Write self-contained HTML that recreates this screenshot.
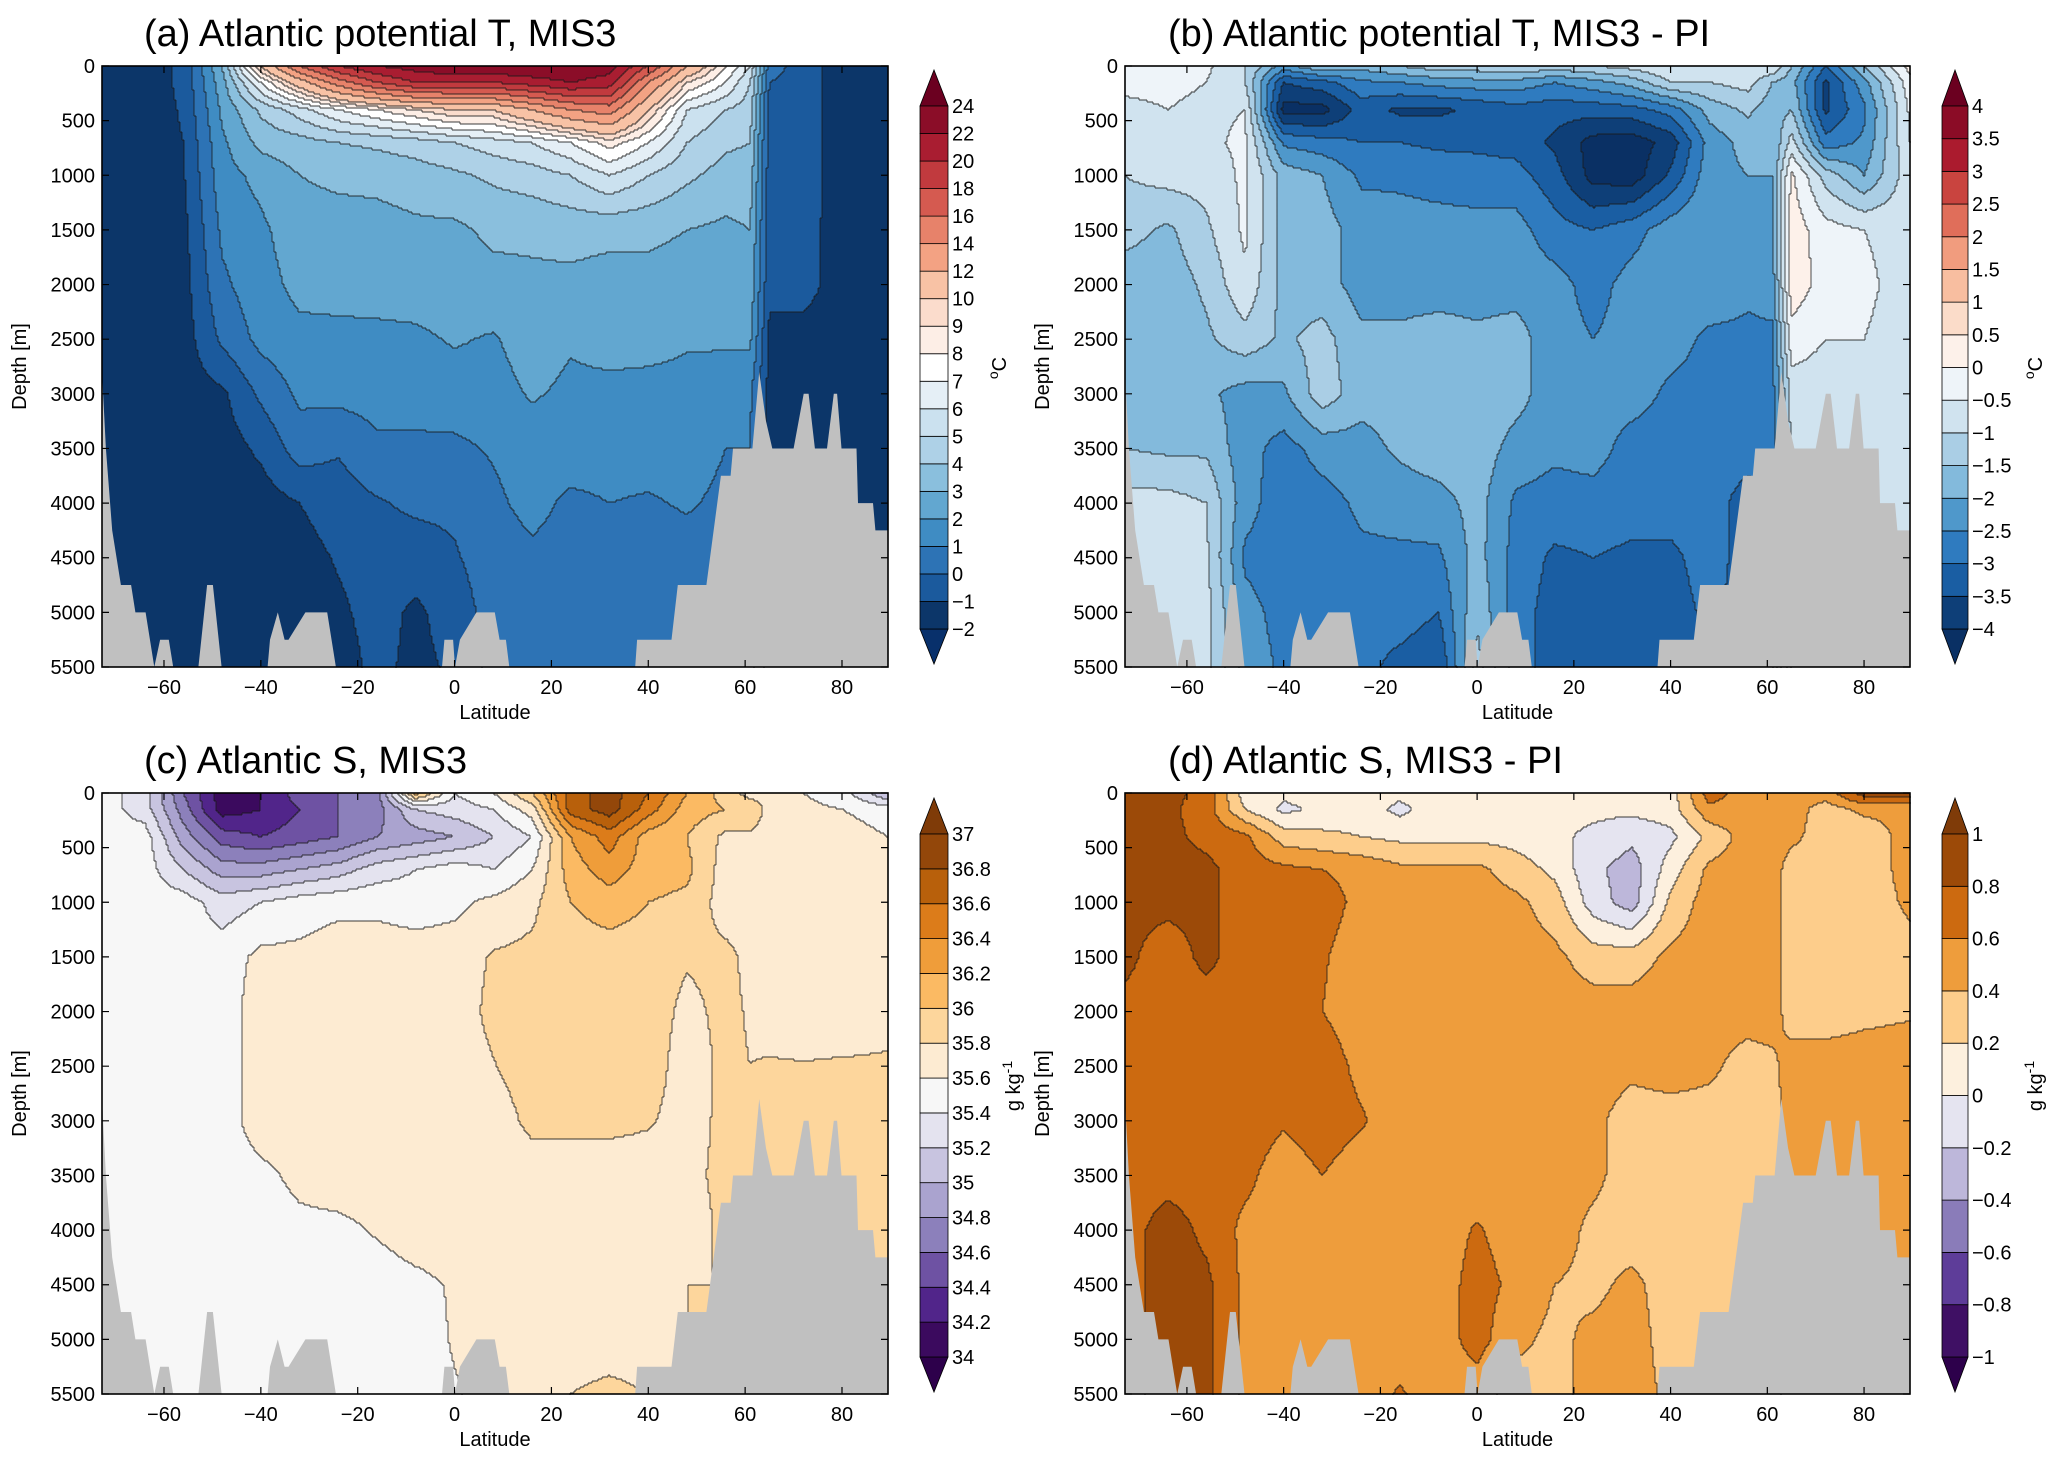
<!DOCTYPE html>
<html><head><meta charset="utf-8"><title>Atlantic T and S sections</title>
<style>
html,body{margin:0;padding:0;background:#fff;}
svg{display:block;font-family:"Liberation Sans",Arial,sans-serif;}
</style></head>
<body>
<svg id="fig" xmlns="http://www.w3.org/2000/svg" width="2067" height="1463" viewBox="0 0 2067 1463">
<rect x="0" y="0" width="2067" height="1463" fill="#ffffff"/>
</svg>
<script>
// ---- shared grid (latitude columns, depth rows) ----
const LATS = [-73,-64,-56,-48,-40,-32,-24,-16,-8,0,8,16,24,32,40,48,56,61,65,72,80,89.5];
const DEPTHS = [0,150,400,700,1000,1500,2000,2500,3000,3500,4000,4500,5000,5500];
const X_TICKS = [-60,-40,-20,0,20,40,60,80];
const Y_TICKS = [0,500,1000,1500,2000,2500,3000,3500,4000,4500,5000,5500];

// ---- panel (a) potential temperature, MIS3 (one row per latitude) ----
const A_VALUES = [
[-1.5,-1.5,-1.5,-1.5,-1.5,-1.5,-1.5,-1.5,-1.5,-1.5,-1.5,-1.5,-1.5,-1.5],
[-1.5,-1.5,-1.5,-1.5,-1.5,-1.5,-1.5,-1.5,-1.5,-1.5,-1.5,-1.5,-1.5,-1.5],
[-0.8,-0.8,-0.9,-1.0,-1.1,-1.3,-1.4,-1.5,-1.5,-1.5,-1.5,-1.5,-1.5,-1.5],
[3,2.6,2.2,1.8,1.6,1.2,0.8,0.2,-1.2,-1.5,-1.5,-1.5,-1.5,-1.5],
[10,7,4.2,3.3,2.3,1.8,1.6,1.3,0.2,-0.8,-1.5,-1.5,-1.5,-1.5],
[16,11,5.5,3.6,3.0,2.6,2.3,1.7,1.2,0.5,-1.0,-1.4,-1.5,-1.5],
[20,15,7,4,3.2,2.6,2.4,1.7,1.3,0.1,-0.5,-0.9,-1.2,-1.5],
[22,18,8,4.2,3.3,2.6,2.5,1.7,1.4,0.8,-0.1,-0.5,-0.6,-0.7],
[23,20,9,4.5,3.5,2.8,2.5,1.8,1.4,0.8,0.2,-0.5,-1.2,-1.3],
[24,20,10,5,3.8,2.8,2.6,2.1,1.5,0.8,0.2,-0.1,-0.5,-0.8],
[24,20,10,5.5,4.2,3.2,2.7,1.9,1.6,1.1,0.8,0.5,0.4,0.3],
[24,21,12,6,4.5,3.2,2.8,2.5,2.1,1.5,1.3,0.8,0.5,0.4],
[24,22,14,7,5,3.3,2.8,2.1,1.8,1.5,0.8,0.6,0.5,0.4],
[23,21,15,8.5,6,3.2,2.7,2.4,1.7,1.4,1.0,0.6,0.5,0.4],
[18,14,10,7,5,3.2,2.7,2.3,1.7,1.4,0.9,0.6,0.5,0.4],
[12,9,6,5,4.2,3.0,2.6,2.1,1.7,1.4,1.1,0.6,0.5,0.4],
[8,7,5,4.2,3.6,2.8,2.6,2.1,1.6,1.0,0.8,0.6,0.5,0.4],
[6,5,4.5,4,3.5,3,2.7,2.2,1.2,1.0,0.8,0.6,0.5,0.4],
[0.5,0,-0.3,-0.5,-0.5,-0.6,-0.8,-1.2,-1.4,-1.5,-1.5,-1.5,-1.5,-1.5],
[-0.5,-0.5,-0.5,-0.5,-0.5,-0.6,-0.6,-1.4,-1.5,-1.5,-1.5,-1.5,-1.5,-1.5],
[-1.5,-1.5,-1.5,-1.5,-1.5,-1.5,-1.5,-1.5,-1.5,-1.5,-1.5,-1.5,-1.5,-1.5],
[-1.5,-1.5,-1.5,-1.5,-1.5,-1.5,-1.5,-1.5,-1.5,-1.5,-1.5,-1.5,-1.5,-1.5]
];
const A_LEVELS = [-2,-1,0,1,2,3,4,5,6,7,8,9,10,12,14,16,18,20,22,24];
const A_LABELS = ["\u22122","\u22121","0","1","2","3","4","5","6","7","8","9","10","12","14","16","18","20","22","24"];
const A_COLORS = ["#08306b","#0c3669","#1b5a9d","#2d73b5","#3f8cc3","#62a7d0","#8abfdd","#aed1e7","#cbe1ef","#e5eff6","#ffffff","#fdeee6","#fbdccc","#f8c2a5","#f3a283","#e7826a","#d55a50","#c13a3e","#a91d31","#8b0d28","#6b0020"];

// ---- panel (b) potential temperature, MIS3 - PI ----
const B_VALUES = [
[-0.4,-0.4,-0.6,-1.0,-1.0,-1.3,-1.8,-1.8,-1.8,-1.5,-0.8,-0.8,-0.8,-0.8],
[-0.4,-0.4,-0.5,-0.7,-0.8,-1.6,-1.8,-1.8,-1.7,-1.6,-0.8,-0.7,-0.7,-0.7],
[-0.4,-0.5,-0.6,-0.6,-0.8,-1.1,-1.4,-1.6,-1.9,-1.6,-1.0,-0.9,-0.8,-0.8],
[-1.0,-1.0,-0.5,-0.4,-0.4,-0.4,-0.6,-1.2,-2.2,-2.3,-2.3,-2.6,-2.3,-2.2],
[-2.2,-3.5,-4.2,-2.6,-1.7,-1.7,-1.7,-1.6,-2.1,-2.7,-2.8,-2.8,-2.7,-2.6],
[-1.5,-3.2,-4.2,-2.8,-2.0,-1.8,-1.8,-1.3,-1.2,-2.3,-2.7,-2.8,-2.6,-2.5],
[-1.8,-2.6,-3.3,-3.0,-2.6,-2.2,-2.2,-1.9,-1.8,-2.2,-2.4,-2.6,-2.8,-2.8],
[-1.5,-2.5,-3.6,-3.0,-2.6,-2.3,-2.2,-1.9,-1.8,-1.9,-2.3,-2.6,-2.7,-3.2],
[-1.2,-2.3,-3.6,-3.1,-2.7,-2.3,-2.2,-1.8,-1.7,-1.7,-2.2,-2.6,-3.0,-3.5],
[-1.2,-2.2,-3.4,-3.1,-2.8,-2.3,-2.2,-1.9,-1.7,-1.7,-1.8,-1.8,-1.6,-1.3],
[-1.0,-2.2,-3.2,-3.2,-2.8,-2.3,-2.2,-1.8,-1.8,-2.2,-2.6,-2.7,-2.8,-2.8],
[-1.2,-2.5,-3.3,-3.6,-3.3,-2.8,-2.3,-2.3,-2.3,-2.4,-2.7,-3.1,-3.2,-3.2],
[-1.0,-2.2,-3.3,-4.2,-4.2,-3.0,-2.7,-2.5,-2.3,-2.3,-2.7,-3.0,-3.2,-3.2],
[-0.8,-1.8,-3.2,-4.3,-4.3,-2.7,-2.3,-2.3,-2.3,-2.7,-2.8,-3.1,-3.2,-3.2],
[-0.5,-1.0,-2.8,-3.8,-3.4,-2.2,-2.2,-2.3,-2.6,-2.7,-2.8,-3.1,-3.2,-3.2],
[-0.6,-1.0,-1.8,-2.3,-2.2,-2.0,-2.2,-2.6,-2.7,-2.8,-2.8,-2.8,-2.9,-3.0],
[-0.6,-0.8,-1.4,-1.8,-2.0,-2.1,-2.4,-2.6,-2.7,-2.8,-3.2,-3.2,-3.2,-3.2],
[-0.5,-1.5,-1.8,-2.0,-2.0,-2.0,-2.3,-2.6,-2.7,-2.8,-3.0,-3.0,-3.0,-3.0],
[-1.5,-1.8,-1.5,-0.8,0.1,0.3,0.3,-0.2,-0.8,-0.9,-1.0,-1.0,-1.0,-1.0],
[-3.0,-3.6,-3.6,-2.8,-1.2,-0.3,-0.2,-0.5,-0.8,-0.8,-0.8,-0.8,-0.8,-0.8],
[-1.5,-2.2,-2.6,-2.4,-2.0,-0.5,-0.4,-0.5,-0.8,-0.8,-0.8,-0.8,-0.8,-0.8],
[0.2,-0.2,-0.4,-0.5,-0.7,-0.7,-0.7,-0.7,-0.8,-0.8,-0.8,-0.8,-0.8,-0.8]
];
const B_LEVELS = [-4,-3.5,-3,-2.5,-2,-1.5,-1,-0.5,0,0.5,1,1.5,2,2.5,3,3.5,4];
const B_LABELS = ["\u22124","\u22123.5","\u22123","\u22122.5","\u22122","\u22121.5","\u22121","\u22120.5","0","0.5","1","1.5","2","2.5","3","3.5","4"];
const B_COLORS = ["#0a3064","#0e3f78","#1a5ea3","#2f7bbf","#4f98cb","#83badc","#aacee5","#d0e3ef","#eef4f9","#fdf1ea","#fbdcc9","#f8bea0","#f19c7e","#e06e5a","#c9443f","#ab1b2e","#8b0c26","#6b0020"];

// ---- panel (c) salinity, MIS3 ----
const C_VALUES = [
[35.5,35.5,35.5,35.5,35.5,35.5,35.5,35.5,35.5,35.5,35.5,35.5,35.5,35.5],
[35.3,35.3,35.5,35.5,35.5,35.5,35.5,35.5,35.5,35.5,35.5,35.5,35.5,35.5],
[34.6,34.7,34.9,35.2,35.5,35.5,35.5,35.5,35.5,35.5,35.5,35.5,35.5,35.5],
[34.1,34.1,34.5,34.9,35.3,35.5,35.5,35.5,35.5,35.5,35.5,35.5,35.5,35.5],
[34.2,34.2,34.4,34.9,35.4,35.65,35.7,35.7,35.7,35.55,35.5,35.5,35.5,35.5],
[34.5,34.4,34.5,35.0,35.5,35.65,35.7,35.7,35.7,35.65,35.55,35.5,35.5,35.5],
[34.6,34.6,34.6,35.1,35.55,35.7,35.7,35.7,35.7,35.7,35.55,35.5,35.5,35.5],
[34.7,34.7,34.8,35.3,35.55,35.7,35.7,35.7,35.7,35.7,35.62,35.5,35.5,35.5],
[36.1,35.2,34.9,35.4,35.5,35.7,35.7,35.7,35.7,35.7,35.7,35.55,35.5,35.5],
[35.4,35.3,35.0,35.5,35.55,35.7,35.7,35.7,35.7,35.7,35.7,35.62,35.62,35.58],
[35.6,35.4,35.2,35.4,35.65,35.82,35.85,35.79,35.7,35.7,35.7,35.7,35.7,35.7],
[36.0,35.7,35.4,35.6,35.75,35.85,35.9,35.9,35.85,35.7,35.7,35.7,35.7,35.7],
[36.7,36.7,36.2,36.1,36.0,35.9,35.9,35.9,35.85,35.7,35.7,35.7,35.7,35.8],
[36.9,36.9,36.5,36.3,36.1,35.9,35.9,35.9,35.85,35.7,35.7,35.7,35.7,35.85],
[36.6,36.5,36.1,36.1,36.0,35.9,35.9,35.9,35.82,35.7,35.7,35.7,35.7,35.8],
[36.2,36.1,36.0,36.05,35.95,35.82,35.75,35.7,35.72,35.75,35.7,35.8,35.8,35.8],
[35.9,36.0,35.75,35.7,35.7,35.85,35.85,35.85,35.85,35.85,35.85,35.8,35.8,35.8],
[35.7,36.0,35.75,35.7,35.7,35.75,35.78,35.8,35.82,35.85,35.85,35.85,35.85,35.85],
[35.7,35.7,35.7,35.7,35.7,35.7,35.7,35.82,35.85,35.85,35.85,35.85,35.85,35.85],
[35.6,35.65,35.7,35.7,35.7,35.7,35.7,35.81,35.85,35.85,35.85,35.85,35.85,35.85],
[35.5,35.6,35.7,35.7,35.7,35.7,35.7,35.82,35.85,35.85,35.85,35.85,35.85,35.85],
[35.0,35.5,35.6,35.7,35.7,35.7,35.75,35.82,35.85,35.85,35.85,35.85,35.85,35.85]
];
const C_LEVELS = [34,34.2,34.4,34.6,34.8,35,35.2,35.4,35.6,35.8,36,36.2,36.4,36.6,36.8,37];
const C_LABELS = ["34","34.2","34.4","34.6","34.8","35","35.2","35.4","35.6","35.8","36","36.2","36.4","36.6","36.8","37"];
const C_COLORS = ["#2d004b","#3b0a5e","#51258a","#6e52a3","#8c80bb","#aaa3cf","#c8c4e0","#e4e3ef","#f7f7f7","#fdebd2","#fdd69c","#fbba63","#ef9d3a","#dc7c1a","#b8600b","#93470a","#7f3b08"];

// ---- panel (d) salinity, MIS3 - PI ----
const D_VALUES = [
[0.85,0.85,0.85,0.85,0.85,0.85,0.75,0.7,0.7,0.7,0.7,0.7,0.7,0.7],
[0.85,0.85,0.85,0.85,0.85,0.7,0.7,0.7,0.7,0.72,0.9,0.9,0.9,0.9],
[0.75,0.7,0.75,0.85,0.85,0.85,0.7,0.7,0.7,0.7,0.75,0.85,0.85,0.85],
[0.1,0.2,0.65,0.7,0.7,0.7,0.7,0.7,0.7,0.65,0.55,0.55,0.55,0.55],
[0.05,-0.05,0.3,0.65,0.7,0.7,0.7,0.7,0.62,0.5,0.5,0.5,0.5,0.5],
[0.1,0.05,0.25,0.6,0.68,0.62,0.6,0.7,0.7,0.6,0.5,0.5,0.5,0.5],
[0.1,0.1,0.2,0.55,0.55,0.5,0.5,0.55,0.62,0.5,0.5,0.5,0.5,0.5],
[0.05,-0.05,0.15,0.45,0.5,0.5,0.5,0.5,0.5,0.5,0.5,0.5,0.5,0.62],
[0.1,0.1,0.15,0.45,0.5,0.5,0.5,0.5,0.5,0.5,0.5,0.5,0.5,0.5],
[0.1,0.12,0.15,0.45,0.5,0.5,0.5,0.5,0.5,0.5,0.62,0.68,0.68,0.5],
[0.1,0.1,0.12,0.3,0.45,0.5,0.5,0.5,0.5,0.5,0.5,0.55,0.45,0.3],
[0.1,0.05,0.05,0.15,0.3,0.45,0.5,0.5,0.5,0.5,0.5,0.4,0.35,0.35],
[0.05,0.05,-0.05,-0.15,-0.1,0.3,0.5,0.5,0.45,0.45,0.35,0.35,0.45,0.45],
[0.0,0.05,-0.15,-0.3,-0.3,0.3,0.5,0.45,0.3,0.3,0.3,0.45,0.5,0.5],
[0.1,0.1,-0.05,0.1,0.25,0.45,0.5,0.5,0.3,0.3,0.3,0.3,0.3,0.35],
[0.7,0.55,0.25,0.45,0.5,0.5,0.5,0.45,0.3,0.3,0.3,0.3,0.3,0.3],
[0.5,0.5,0.5,0.5,0.5,0.5,0.5,0.3,0.3,0.3,0.3,0.3,0.3,0.3],
[0.5,0.5,0.5,0.5,0.5,0.5,0.5,0.35,0.3,0.3,0.3,0.3,0.3,0.3],
[0.5,0.5,0.45,0.3,0.3,0.3,0.3,0.5,0.5,0.5,0.5,0.5,0.5,0.5],
[0.5,0.3,0.3,0.3,0.25,0.3,0.3,0.5,0.5,0.5,0.5,0.5,0.5,0.5],
[0.9,0.45,0.25,0.25,0.25,0.3,0.35,0.5,0.5,0.5,0.5,0.5,0.5,0.5],
[0.9,0.45,0.5,0.5,0.45,0.3,0.38,0.5,0.5,0.5,0.5,0.5,0.5,0.5]
];
const D_LEVELS = [-1,-0.8,-0.6,-0.4,-0.2,0,0.2,0.4,0.6,0.8,1];
const D_LABELS = ["\u22121","\u22120.8","\u22120.6","\u22120.4","\u22120.2","0","0.2","0.4","0.6","0.8","1"];
const D_COLORS = ["#2d004b","#3f1064","#5e3d99","#8a7cb9","#bdb7da","#e5e4f0","#fdf0de","#fdcd8b","#ee9d3c","#cc6a10","#9c4a08","#7f3b08"];

// ---- bathymetry (sea floor) ----
const BATH_LAT = [-72.8,-72.0,-70.7,-68.9,-66.8,-65.9,-63.8,-62.0,-60.8,-60.4,-59.0,-58.1,-52.9,-51.1,-49.9,-48.1,-38.6,-38.1,-36.5,-35.1,-34.3,-30.8,-26.3,-24.5,-2.6,-2.1,-0.3,0.1,1.1,4.5,8.3,9.3,10.6,11.3,37.3,37.7,44.8,46.1,52.0,55.0,57.0,57.5,61.5,62.9,64.3,65.6,70.0,72.1,73.1,74.4,76.9,78.3,79.0,79.9,83.0,83.3,86.4,86.9,89.5];
const BATH_DEPTH = [2800,3500,4250,4750,4750,5000,5000,5500,5250,5250,5250,5500,5500,4750,4750,5500,5500,5250,5000,5250,5250,5000,5000,5500,5500,5250,5250,5500,5250,5000,5000,5250,5250,5500,5500,5250,5250,4750,4750,3750,3750,3500,3500,2800,3250,3500,3500,3000,3000,3500,3500,3000,3000,3500,3500,4000,4000,4250,4250];

const NS = "http://www.w3.org/2000/svg";
const svg = document.getElementById("fig");
const LAT_MIN = -72.8, LAT_MAX = 89.5, DEP_MAX = 5500;

function mk(tag, attrs, parent) {
  const e = document.createElementNS(NS, tag);
  for (const k in attrs) e.setAttribute(k, attrs[k]);
  (parent || svg).appendChild(e);
  return e;
}
function idx(arr, v) {
  let i = 0;
  while (i < arr.length - 2 && v > arr[i + 1]) i++;
  return i;
}
function sample(vals, lat, dep) {
  const i = idx(LATS, lat), j = idx(DEPTHS, dep);
  let tx = (lat - LATS[i]) / (LATS[i + 1] - LATS[i]);
  let ty = (dep - DEPTHS[j]) / (DEPTHS[j + 1] - DEPTHS[j]);
  tx = Math.max(0, Math.min(1, tx)); ty = Math.max(0, Math.min(1, ty));
  const a = vals[i][j], b = vals[i + 1][j], c = vals[i][j + 1], d = vals[i + 1][j + 1];
  return (a * (1 - tx) + b * tx) * (1 - ty) + (c * (1 - tx) + d * tx) * ty;
}
function levelOf(levels, v) {
  let k = 0;
  while (k < levels.length && v >= levels[k]) k++;
  return k;
}

function drawPanel(p) {
  const g = mk("g", {});
  
  
  const xs = lat => p.x0 + (lat - LAT_MIN) / (LAT_MAX - LAT_MIN) * (p.x1 - p.x0);
  const ys = dep => p.y0 + dep / DEP_MAX * (p.y1 - p.y0);
  const S = 2;
  const nc = Math.ceil((p.x1 - p.x0) / S), nr = Math.ceil((p.y1 - p.y0) / S);
  const lev = [];
  for (let r = 0; r < nr; r++) {
    const dep = ((r + 0.5) * S) / (p.y1 - p.y0) * DEP_MAX;
    const row = new Array(nc);
    for (let c = 0; c < nc; c++) {
      const lat = LAT_MIN + ((c + 0.5) * S) / (p.x1 - p.x0) * (LAT_MAX - LAT_MIN);
      row[c] = levelOf(p.levels, sample(p.values, lat, dep));
    }
    lev.push(row);
  }
  const fg = mk("g", {"shape-rendering": "crispEdges"}, g);
  
  
  for (let r = 0; r < nr; r++) {
    let c = 0;
    while (c < nc) {
      let e = c;
      while (e + 1 < nc && lev[r][e + 1] === lev[r][c]) e++;
      const x = p.x0 + c * S, y = p.y0 + r * S;
      const w = Math.min(p.x1, p.x0 + (e + 1) * S) - x;
      const h = Math.min(p.y1, y + S + 0.6) - y;
      const rc = mk("rect", {x: x, y: y, width: w, height: h, fill: p.colors[lev[r][c]]}, fg);
      
      
      c = e + 1;
    }
  }
  let d = "";
  for (let r = 0; r < nr; r++) {
    for (let c = 0; c < nc; c++) {
      const x = p.x0 + c * S, y = p.y0 + r * S;
      if (c + 1 < nc && lev[r][c] !== lev[r][c + 1]) d += "M" + (x + S) + " " + y + "v" + S;
      if (r + 1 < nr && lev[r][c] !== lev[r + 1][c]) d += "M" + x + " " + (y + S) + "h" + S;
    }
  }
  const cl = mk("path", {d: d, stroke: "#1a1a1a", "stroke-width": 0.9, fill: "none", "stroke-opacity": 0.85}, g);
  
  
  let pts = [];
  for (let i = 0; i < BATH_LAT.length; i++) {
    const lat = Math.max(LAT_MIN, Math.min(LAT_MAX, BATH_LAT[i]));
    pts.push(xs(lat).toFixed(1) + "," + ys(BATH_DEPTH[i]).toFixed(1));
  }
  pts.unshift(p.x0 + "," + ys(BATH_DEPTH[0]).toFixed(1));
  pts.push(p.x1 + "," + ys(BATH_DEPTH[BATH_DEPTH.length - 1]).toFixed(1));
  pts.push(p.x1 + "," + p.y1);
  pts.push(p.x0 + "," + p.y1);
  const bp = mk("polygon", {points: pts.join(" "), fill: "#c0c0c0"}, g);
  
  
  const fr = mk("rect", {x: p.x0, y: p.y0, width: p.x1 - p.x0, height: p.y1 - p.y0, fill: "none", stroke: "#000", "stroke-width": 1.6}, g);
  
  
  for (const t of Y_TICKS) {
    const y = ys(t);
    const tk = mk("path", {d: "M" + p.x0 + " " + y + "h7M" + p.x1 + " " + y + "h-7", stroke: "#000", "stroke-width": 1.2}, g);
    
    
    const tl = mk("text", {x: p.x0 - 7, y: y + 7, "text-anchor": "end", "font-size": 20, fill: "#000"}, g);
    
    
    tl.textContent = String(t);
  }
  for (const t of X_TICKS) {
    const x = xs(t);
    const tk = mk("path", {d: "M" + x + " " + p.y1 + "v-7M" + x + " " + p.y0 + "v7", stroke: "#000", "stroke-width": 1.2}, g);
    
    
    const tl = mk("text", {x: x, y: p.y1 + 27, "text-anchor": "middle", "font-size": 20, fill: "#000"}, g);
    
    
    tl.textContent = t < 0 ? "\u2212" + Math.abs(t) : String(t);
  }
  const xt = mk("text", {x: (p.x0 + p.x1) / 2, y: p.y1 + 52, "text-anchor": "middle", "font-size": 20}, g);
  
  
  xt.textContent = "Latitude";
  const cy = (p.y0 + p.y1) / 2;
  const yt = mk("text", {x: p.x0 - 76, y: cy, "text-anchor": "middle", "font-size": 20, transform: "rotate(-90 " + (p.x0 - 76) + " " + cy + ")"}, g);
  
  
  yt.textContent = "Depth [m]";
  const tt = mk("text", {x: p.tx, y: p.ty, "font-size": 38}, g);
  
  
  tt.textContent = p.title;
  const cb = mk("g", {}, g);
  
  
  const n = p.levels.length - 1;
  const h = (p.cbBot - p.cbTop) / n;
  const mid = (p.cbx0 + p.cbx1) / 2;
  const lo = mk("polygon", {points: p.cbx0 + "," + p.cbBot + " " + p.cbx1 + "," + p.cbBot + " " + mid + "," + p.tipBot, fill: p.colors[0], stroke: "#000", "stroke-width": 0.8}, cb);
  
  
  const hi = mk("polygon", {points: p.cbx0 + "," + p.cbTop + " " + p.cbx1 + "," + p.cbTop + " " + mid + "," + p.tipTop, fill: p.colors[p.colors.length - 1], stroke: "#000", "stroke-width": 0.8}, cb);
  
  
  for (let i = 0; i < n; i++) {
    const sw = mk("rect", {x: p.cbx0, y: p.cbBot - (i + 1) * h, width: p.cbx1 - p.cbx0, height: h, fill: p.colors[i + 1], stroke: "#000", "stroke-width": 0.8}, cb);
    
    
  }
  for (let i = 0; i <= n; i++) {
    const lb = mk("text", {x: p.cbx1 + 4, y: p.cbBot - i * h + 7, "font-size": 20}, cb);
    
    
    lb.textContent = p.labels[i];
  }
  const ut = mk("text", {x: p.ux, y: p.uy, "text-anchor": "middle", "font-size": 20, transform: "rotate(-90 " + p.ux + " " + p.uy + ")"}, cb);
  
  
  ut.innerHTML = p.unit;
}

drawPanel({name: "panel-a", title: "(a) Atlantic potential T, MIS3", tx: 144, ty: 46,
  x0: 102, x1: 888, y0: 66, y1: 667, values: A_VALUES, levels: A_LEVELS, colors: A_COLORS, labels: A_LABELS,
  cbx0: 920, cbx1: 948, cbTop: 106, cbBot: 629, tipTop: 70, tipBot: 664, ux: 1006, uy: 368,
  unit: '<tspan baseline-shift="super" font-size="14">o</tspan>C'});
drawPanel({name: "panel-b", title: "(b) Atlantic potential T, MIS3 - PI", tx: 1168, ty: 46,
  x0: 1125, x1: 1910, y0: 66, y1: 667, values: B_VALUES, levels: B_LEVELS, colors: B_COLORS, labels: B_LABELS,
  cbx0: 1942, cbx1: 1968, cbTop: 106, cbBot: 629, tipTop: 70, tipBot: 664, ux: 2042, uy: 368,
  unit: '<tspan baseline-shift="super" font-size="14">o</tspan>C'});
drawPanel({name: "panel-c", title: "(c) Atlantic S, MIS3", tx: 144, ty: 773,
  x0: 102, x1: 888, y0: 793, y1: 1394, values: C_VALUES, levels: C_LEVELS, colors: C_COLORS, labels: C_LABELS,
  cbx0: 920, cbx1: 948, cbTop: 834, cbBot: 1357, tipTop: 798, tipBot: 1392, ux: 1020, uy: 1086,
  unit: 'g kg<tspan baseline-shift="super" font-size="14">-1</tspan>'});
drawPanel({name: "panel-d", title: "(d) Atlantic S, MIS3 - PI", tx: 1168, ty: 773,
  x0: 1125, x1: 1910, y0: 793, y1: 1394, values: D_VALUES, levels: D_LEVELS, colors: D_COLORS, labels: D_LABELS,
  cbx0: 1942, cbx1: 1968, cbTop: 834, cbBot: 1357, tipTop: 798, tipBot: 1392, ux: 2042, uy: 1086,
  unit: 'g kg<tspan baseline-shift="super" font-size="14">-1</tspan>'});
</script>
</body></html>
